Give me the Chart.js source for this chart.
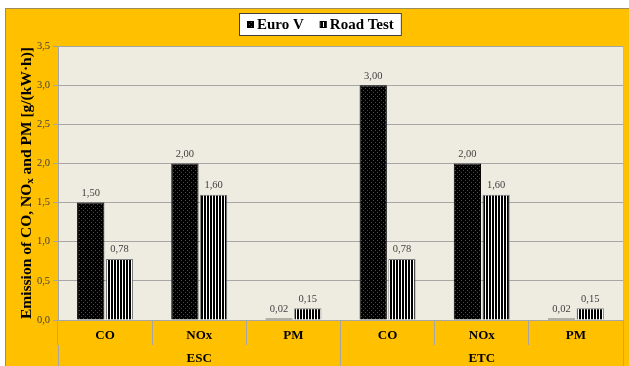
<!DOCTYPE html>
<html>
<head>
<meta charset="utf-8">
<script src="https://cdn.jsdelivr.net/npm/chart.js@4"></script>
<style>
  html, body { margin: 0; padding: 0; background: #ffffff; overflow: hidden; }
  #frame {
    position: absolute; left: 5px; top: 8px; width: 624px; height: 358px;
    background: #FFC000; border-top: 1px solid #a08c5a; border-left: 1px solid #a08c5a;
  }
  canvas { display: block; }
</style>
</head>
<body>
<div id="frame"><canvas id="c" width="623" height="357"></canvas></div>
<script>
// Pollutant categories, grouped by test cycle
const pollutants = ['CO', 'NOx', 'PM', 'CO', 'NOx', 'PM'];
const cycles = ['ESC', 'ETC'];

// Emission values in g/(kW·h)
const euroV = [1.50, 2.00, 0.02, 3.00, 2.00, 0.02];
const roadTest = [0.78, 1.60, 0.15, 0.78, 1.60, 0.15];

// Y axis ticks
const yMin = 0, yMax = 3.5, yStep = 0.5;

const serif = '"Liberation Serif", "Times New Roman", serif';
const fmt = (v, d) => v.toFixed(d).replace('.', ',');

// Fill patterns: dotted black and vertical stripes
function dottedPattern() {
  const p = document.createElement('canvas');
  p.width = 4; p.height = 4;
  const g = p.getContext('2d');
  g.fillStyle = '#000'; g.fillRect(0, 0, 4, 4);
  g.fillStyle = '#4a4a4a';
  g.fillRect(1, 1, 1, 1);
  g.fillRect(3, 3, 1, 1);
  return g.createPattern(p, 'repeat');
}
function stripePattern() {
  const p = document.createElement('canvas');
  p.width = 3; p.height = 1;
  const g = p.getContext('2d');
  g.fillStyle = '#ffffff'; g.fillRect(0, 0, 3, 1);
  g.fillStyle = '#000000'; g.fillRect(0, 0, 2, 1);
  return g.createPattern(p, 'repeat');
}
const dots = dottedPattern();
const stripes = stripePattern();

// Plot area background and frame
const plotBackground = {
  id: 'plotBackground',
  beforeDraw(chart) {
    const { ctx, chartArea: a } = chart;
    ctx.save();
    ctx.fillStyle = '#EEECE1';
    ctx.fillRect(a.left, a.top, a.right - a.left, a.bottom - a.top);
    ctx.strokeStyle = '#b8b8b8';
    ctx.lineWidth = 1;
    ctx.beginPath();
    ctx.moveTo(a.right + 0.5, a.top);
    ctx.lineTo(a.right + 0.5, a.bottom);
    ctx.stroke();
    ctx.restore();
  }
};

// Value labels above each bar
const valueLabels = {
  id: 'valueLabels',
  afterDatasetsDraw(chart) {
    const { ctx } = chart;
    ctx.save();
    ctx.font = '10.5px ' + serif;
    ctx.fillStyle = '#404040';
    ctx.textAlign = 'center';
    ctx.textBaseline = 'bottom';
    chart.data.datasets.forEach((ds, i) => {
      chart.getDatasetMeta(i).data.forEach((bar, j) => {
        ctx.fillText(fmt(ds.data[j], 2), bar.x, bar.y - 4);
      });
    });
    ctx.restore();
  }
};

// Vertical axis title with a subscript x in NOx
const yTitle = {
  id: 'yTitle',
  afterDraw(chart) {
    const { ctx, chartArea: a } = chart;
    const big = 'bold 15.5px ' + serif, small = 'bold 11px ' + serif;
    const parts = [
      ['Emission of CO, NO', big, 0],
      ['x', small, 3],
      [' and PM [g/(kW\u00B7h)]', big, 0]
    ];
    ctx.save();
    let total = 0;
    parts.forEach(p => { ctx.font = p[1]; total += ctx.measureText(p[0]).width; });
    ctx.translate(21, (a.top + a.bottom) / 2);
    ctx.rotate(-Math.PI / 2);
    ctx.fillStyle = '#000';
    ctx.textBaseline = 'middle';
    ctx.textAlign = 'left';
    let x = -total / 2;
    parts.forEach(p => {
      ctx.font = p[1];
      ctx.fillText(p[0], x, p[2]);
      x += ctx.measureText(p[0]).width;
    });
    ctx.restore();
  }
};

// Boxed legend at the top
const boxedLegend = {
  id: 'boxedLegend',
  afterDraw(chart) {
    const { ctx } = chart;
    const items = chart.data.datasets.map(ds => ({ text: ds.label, fill: ds.backgroundColor }));
    ctx.save();
    ctx.font = 'bold 15px ' + serif;
    const mk = 7, gap = 3, spacing = 16, pad = 8;
    let w = pad * 2;
    items.forEach((it, i) => { w += mk + gap + ctx.measureText(it.text).width + (i ? spacing : 0); });
    const cx = 314, top = 4, h = 23;
    const left = Math.round(cx - w / 2);
    ctx.fillStyle = '#ffffff';
    ctx.fillRect(left, top, w, h);
    ctx.strokeStyle = '#404040';
    ctx.lineWidth = 1;
    ctx.strokeRect(left + 0.5, top + 0.5, w - 1, h - 1);
    let x = left + pad;
    const my = top + h / 2;
    items.forEach((it, i) => {
      if (i) x += spacing;
      ctx.fillStyle = it.fill;
      ctx.fillRect(x, my - mk / 2, mk, mk);
      ctx.strokeStyle = '#000';
      ctx.strokeRect(x + 0.5, my - mk / 2 + 0.5, mk - 1, mk - 1);
      x += mk + gap;
      ctx.fillStyle = '#000';
      ctx.textBaseline = 'middle';
      ctx.fillText(it.text, x, my + 1);
      x += ctx.measureText(it.text).width;
    });
    ctx.restore();
  }
};

new Chart(document.getElementById('c'), {
  type: 'bar',
  data: {
    labels: pollutants,
    datasets: [
      { label: 'Euro V', data: euroV, backgroundColor: dots, borderColor: '#000000', borderWidth: 1 },
      { label: 'Road Test', data: roadTest, backgroundColor: stripes, borderColor: '#7f7f7f', borderWidth: 1 }
    ]
  },
  options: {
    responsive: false,
    animation: false,
    devicePixelRatio: 1,
    layout: { padding: { left: 0, right: 6, top: 37, bottom: 0 } },
    datasets: { bar: { categoryPercentage: 0.61, barPercentage: 0.95 } },
    plugins: { legend: { display: false }, tooltip: { enabled: false } },
    scales: {
      x: {
        type: 'category',
        position: 'bottom',
        afterFit(s) { s.height = 25; },
        grid: { offset: true, drawOnChartArea: false, drawTicks: true, tickLength: 25, color: '#a6a6a6' },
        border: { display: true, color: '#a6a6a6' },
        ticks: { autoSkip: false, maxRotation: 0, padding: -17, color: '#000', font: { family: serif, size: 13, weight: 'bold' } }
      },
      x2: {
        type: 'category',
        position: 'bottom',
        labels: cycles,
        afterFit(s) { s.height = 21; },
        grid: { offset: true, drawOnChartArea: false, drawTicks: true, tickLength: 21, color: '#a6a6a6' },
        border: { display: false },
        ticks: { autoSkip: false, maxRotation: 0, padding: -15, color: '#000', font: { family: serif, size: 13, weight: 'bold' } }
      },
      y: {
        min: yMin, max: yMax,
        afterFit(s) { s.width = 52; },
        grid: { color: '#a6a6a6', tickLength: 5 },
        border: { display: true, color: '#a6a6a6' },
        ticks: { stepSize: yStep, padding: 3, color: '#404040', font: { family: serif, size: 10.5 }, callback: v => fmt(v, 1) }
      }
    }
  },
  plugins: [plotBackground, valueLabels, yTitle, boxedLegend]
});
</script>
</body>
</html>
